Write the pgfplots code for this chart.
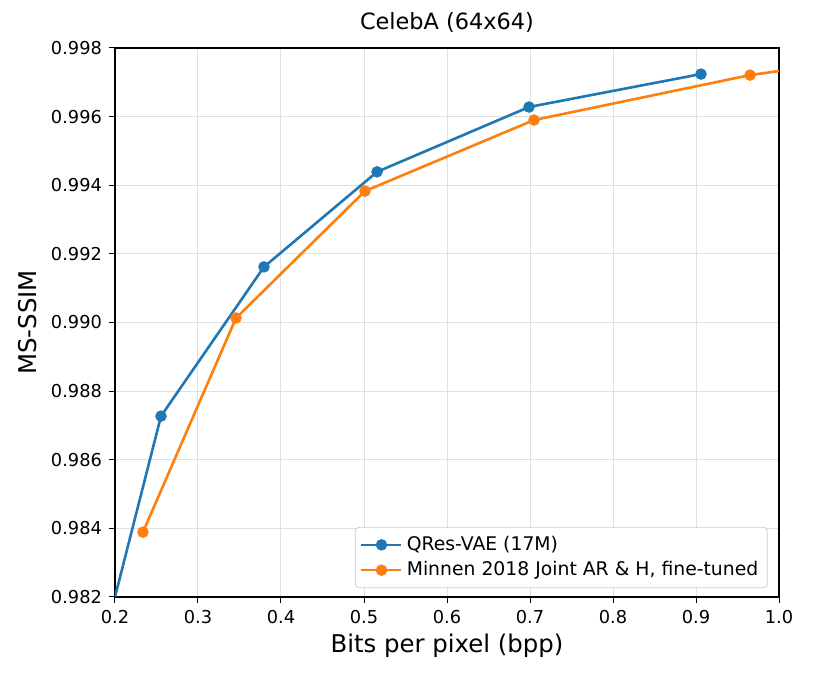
\documentclass[border=0pt]{standalone}
\usepackage{fontspec}
\setmainfont{DejaVu Sans}
\usepackage{pgfplots}
\pgfplotsset{compat=1.18}
\definecolor{cA}{HTML}{1F77B4}
\definecolor{cB}{HTML}{FF7F0E}
\begin{document}
\begin{tikzpicture}
\useasboundingbox (-57.5pt,-40.5pt) rectangle (349.5pt,298.5pt);
\begin{axis}[
  scale only axis, width=332pt, height=274.5pt,
  at={(0,0)}, anchor=south west,
  xmin=0.2, xmax=1.0, ymin=0.982, ymax=0.998,
  xtick={0.2,0.3,...,1.0},
  ytick={0.982,0.984,...,0.998},
  xticklabel style={/pgf/number format/.cd,fixed,fixed zerofill,precision=1},
  yticklabel style={/pgf/number format/.cd,fixed,fixed zerofill,precision=3},
  /pgf/number format/assume math mode=true,
  scaled y ticks=false, scaled x ticks=false,
  tick label style={font=\fontsize{8.9pt}{10pt}\selectfont},
  label style={font=\fontsize{12.2pt}{14pt}\selectfont},
  xlabel style={yshift=1.5pt},
  title style={font=\fontsize{11.2pt}{13pt}\selectfont, yshift=-2pt},
  title={CelebA (64x64)},
  xlabel={Bits per pixel (bpp)},
  ylabel={MS-SSIM},
  tick align=outside, major tick length=3pt,
  tick style={black, line width=0.5pt},
  xtick pos=bottom, ytick pos=left,
  axis line style={line width=0.6pt},
  grid=major,
  grid style={black!12, line width=0.5pt},
  legend style={at={(0.983,0.016)}, anchor=south east, font=\fontsize{9.4pt}{11pt}\selectfont,
    draw=black!20, rounded corners=2pt, row sep=0pt, inner sep=2.5pt},
  legend image code/.code={\draw[#1, mark=none] (0pt,0pt) -- (20pt,0pt); \draw[#1, only marks] plot coordinates {(10pt,0pt)};},
  legend cell align=left,
  clip=true,
]
\addplot[cA, line width=1.3pt, mark=*, mark size=2.2pt] coordinates {
  (0.18,0.98010) (0.2554,0.98727) (0.3795,0.99162) (0.5157,0.99439) (0.6988,0.99628) (0.9060,0.99724)
};
\addlegendentry{QRes-VAE (17M)}
\addplot[cB, line width=1.3pt, mark=*, mark size=2.2pt] coordinates {
  (0.2337,0.98389) (0.3458,0.99013) (0.5012,0.99383) (0.7048,0.99590) (0.9651,0.99721) (1.3,0.99835)
};
\addlegendentry{Minnen 2018 Joint AR \& H, fine-tuned}
\end{axis}
\end{tikzpicture}
\end{document}
